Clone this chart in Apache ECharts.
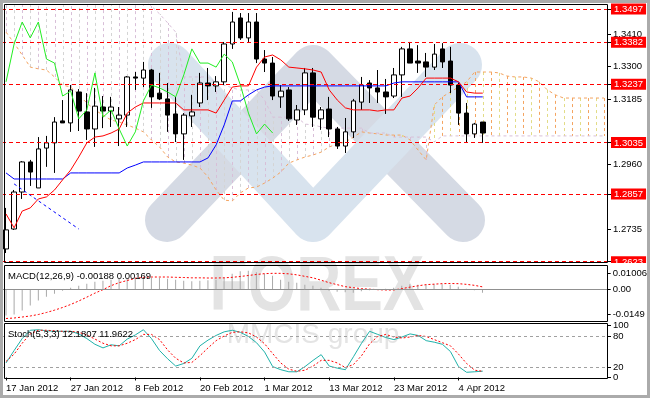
<!DOCTYPE html>
<html><head><meta charset="utf-8">
<script src="https://cdn.jsdelivr.net/npm/echarts@6/dist/echarts.min.js"></script>
<style>html,body{margin:0;padding:0;background:#fff}#c{width:650px;height:398px}</style>
</head><body><div id="c"></div>
<script>
const dates = ['17 Jan 2012','18 Jan 2012','19 Jan 2012','20 Jan 2012','23 Jan 2012','24 Jan 2012','25 Jan 2012','26 Jan 2012','27 Jan 2012','30 Jan 2012','31 Jan 2012','1 Feb 2012','2 Feb 2012','3 Feb 2012','6 Feb 2012','7 Feb 2012','8 Feb 2012','9 Feb 2012','10 Feb 2012','13 Feb 2012','14 Feb 2012','15 Feb 2012','16 Feb 2012','17 Feb 2012','20 Feb 2012','21 Feb 2012','22 Feb 2012','23 Feb 2012','24 Feb 2012','27 Feb 2012','28 Feb 2012','29 Feb 2012','1 Mar 2012','2 Mar 2012','5 Mar 2012','6 Mar 2012','7 Mar 2012','8 Mar 2012','9 Mar 2012','12 Mar 2012','13 Mar 2012','14 Mar 2012','15 Mar 2012','16 Mar 2012','19 Mar 2012','20 Mar 2012','21 Mar 2012','22 Mar 2012','23 Mar 2012','26 Mar 2012','27 Mar 2012','28 Mar 2012','29 Mar 2012','30 Mar 2012','2 Apr 2012','3 Apr 2012','4 Apr 2012','5 Apr 2012','6 Apr 2012','9 Apr 2012'];
const futureDates = ['10 Apr 2012','11 Apr 2012','12 Apr 2012','13 Apr 2012','16 Apr 2012','17 Apr 2012','18 Apr 2012','19 Apr 2012','20 Apr 2012','23 Apr 2012','24 Apr 2012','25 Apr 2012','26 Apr 2012','27 Apr 2012','30 Apr 2012'];

const open = [1.2667,1.2736,1.2864,1.2968,1.2878,1.3016,1.3034,1.3110,1.3103,1.3210,
 1.3141,1.3082,1.3158,1.3144,1.3117,1.3130,1.3262,1.3258,1.3286,1.3206,
 1.3186,1.3134,1.3065,1.3127,1.3172,1.3241,1.3231,1.3245,1.3376,1.3466,
 1.3397,1.3452,1.3324,1.3310,1.3193,1.3217,1.3113,1.3148,1.3276,1.3117,
 1.3151,1.3082,1.3023,1.3072,1.3175,1.3241,1.3224,1.3210,1.3196,1.3269,
 1.3359,1.3317,1.3314,1.3296,1.3359,1.3317,1.3234,1.3137,1.3065,1.3106];
const close = [1.2733,1.2864,1.2968,1.2933,1.3013,1.3034,1.3106,1.3103,1.3217,1.3144,
 1.3082,1.3161,1.3144,1.3158,1.3130,1.3262,1.3258,1.3286,1.3193,1.3186,
 1.3130,1.3065,1.3130,1.3141,1.3241,1.3231,1.3245,1.3376,1.3452,1.3397,
 1.3452,1.3324,1.3310,1.3196,1.3213,1.3117,1.3148,1.3276,1.3123,1.3148,
 1.3082,1.3023,1.3072,1.3179,1.3234,1.3224,1.3210,1.3193,1.3269,1.3359,
 1.3310,1.3310,1.3296,1.3341,1.3314,1.3234,1.3137,1.3065,1.3099,1.3068];
const low = [1.2653,1.2733,1.2840,1.2885,1.2878,1.2951,1.2930,1.3103,1.3072,1.3075,
 1.3044,1.3020,1.3085,1.3089,1.3023,1.3089,1.3217,1.3227,1.3155,1.3182,
 1.3072,1.3037,1.2975,1.3089,1.3158,1.3182,1.3210,1.3234,1.3359,1.3390,
 1.3383,1.3310,1.3279,1.3182,1.3155,1.3110,1.3096,1.3130,1.3089,1.3079,
 1.3054,1.3013,1.2999,1.3051,1.3148,1.3172,1.3172,1.3134,1.3189,1.3193,
 1.3310,1.3276,1.3262,1.3286,1.3293,1.3206,1.3096,1.3034,1.3051,1.3034];
const high = [1.2809,1.2871,1.2971,1.2975,1.3054,1.3058,1.3123,1.3182,1.3234,1.3220,
 1.3206,1.3224,1.3196,1.3193,1.3158,1.3265,1.3279,1.3314,1.3290,1.3276,
 1.3241,1.3193,1.3137,1.3200,1.3276,1.3293,1.3265,1.3383,1.3487,1.3483,
 1.3483,1.3483,1.3355,1.3331,1.3234,1.3227,1.3165,1.3293,1.3293,1.3158,
 1.3193,1.3089,1.3120,1.3186,1.3262,1.3251,1.3286,1.3255,1.3293,1.3366,
 1.3383,1.3372,1.3345,1.3376,1.3379,1.3366,1.3241,1.3172,1.3103,1.3106];

const tenkan = [1.2788,1.2740,1.2798,1.2809,1.2840,1.2847,1.2871,1.2906,1.2940,1.2985,
 1.3034,1.3054,1.3058,1.3068,1.3082,1.3137,1.3158,1.3172,1.3172,1.3172,
 1.3172,1.3172,1.3148,1.3148,1.3148,1.3148,1.3137,1.3182,1.3227,1.3231,
 1.3231,1.3296,1.3331,1.3338,1.3321,1.3296,1.3293,1.3290,1.3286,1.3279,
 1.3217,1.3182,1.3155,1.3148,1.3148,1.3148,1.3144,1.3148,1.3148,1.3189,
 1.3196,1.3224,1.3258,1.3258,1.3258,1.3258,1.3245,1.3210,1.3206,1.3206];
const kijun = [1.2930,1.2909,1.2909,1.2909,1.2909,1.2909,1.2909,1.2909,1.2930,1.2930,
 1.2930,1.2930,1.2930,1.2930,1.2930,1.2947,1.2957,1.2968,1.2968,1.2968,
 1.2968,1.2968,1.2968,1.2968,1.2968,1.2982,1.3027,1.3096,1.3179,1.3179,
 1.3200,1.3217,1.3227,1.3231,1.3231,1.3231,1.3231,1.3231,1.3231,1.3231,
 1.3231,1.3231,1.3231,1.3231,1.3231,1.3231,1.3231,1.3231,1.3241,1.3245,
 1.3245,1.3245,1.3245,1.3245,1.3245,1.3245,1.3245,1.3193,1.3193,1.3193];
const spanA = [1.3417,1.3379,1.3338,1.3296,1.3290,1.3286,1.3262,1.3234,1.3227,1.3200,
 1.3172,1.3148,1.3130,1.3113,1.3106,1.3096,1.3085,1.3072,1.3044,1.3020,
 1.2985,1.2968,1.2964,1.2957,1.2947,1.2916,1.2871,1.2836,1.2833,1.2861,
 1.2878,1.2881,1.2895,1.2912,1.2933,1.2964,1.2975,1.2985,1.2992,1.3002,
 1.3020,1.3030,1.3037,1.3054,1.3072,1.3068,1.3065,1.3061,1.3061,1.3061,
 1.3044,1.3009,1.2975,1.3165,1.3193,1.3210,1.3227,1.3245,1.3279,1.3279,
 1.3279,1.3276,1.3265,1.3262,1.3262,1.3258,1.3245,1.3217,1.3200,1.3189,
 1.3189,1.3189,1.3189,1.3189,1.3189];
const spanB = [1.3530,1.3530,1.3530,1.3530,1.3530,1.3530,1.3530,1.3530,1.3530,1.3530,
 1.3530,1.3530,1.3530,1.3530,1.3530,1.3530,1.3530,1.3530,1.3507,1.3480,
 1.3449,1.3417,1.3262,1.3262,1.3262,1.3262,1.3241,1.3234,1.3224,1.3217,
 1.3217,1.3217,1.3182,1.3123,1.3123,1.3123,1.3123,1.3099,1.3096,1.3089,
 1.3085,1.3085,1.3085,1.3085,1.3085,1.3068,1.3068,1.3068,1.3054,1.3054,
 1.3054,1.3054,1.3054,1.3037,1.3058,1.3058,1.3058,1.3058,1.3058,1.3058,
 1.3058,1.3058,1.3058,1.3058,1.3058,1.3058,1.3058,1.3058,1.3058,1.3058,
 1.3058,1.3058,1.3058,1.3058,1.3058];
const trendLine = [[1, 1.2892], [9, 1.2736]];
const levels = [1.3497, 1.3382, 1.3237, 1.3035, 1.2857, 1.2623];
const priceTicks = [1.3497, 1.3410, 1.3382, 1.3300, 1.3237, 1.3185, 1.3035, 1.2960, 1.2857, 1.2735, 1.2623];

const macdMain = [-0.0155,-0.0149,-0.0125,-0.0095,-0.0065,-0.0042,-0.0024,-0.0006,0.0012,0.0024,
 0.0036,0.0048,0.0054,0.0060,0.0065,0.0068,0.0071,0.0074,0.0071,0.0071,
 0.0065,0.0060,0.0054,0.0051,0.0054,0.0057,0.0060,0.0071,0.0095,0.0110,
 0.0113,0.0104,0.0095,0.0083,0.0060,0.0048,0.0042,0.0030,0.0024,0.0012,
 -0.0006,-0.0012,-0.0015,-0.0018,-0.0009,-0.0003,0.0003,0.0006,0.0012,0.0024,
 0.0033,0.0030,0.0030,0.0033,0.0033,0.0030,0.0018,0.0006,-0.0003,-0.00188];
const macdSignal = [-0.0173,-0.0170,-0.0164,-0.0158,-0.0149,-0.0137,-0.0123,-0.0107,-0.0089,-0.0068,
 -0.0045,-0.0021,0.0000,0.0024,0.0042,0.0055,0.0068,0.0074,0.0076,0.0076,
 0.0076,0.0074,0.0073,0.0071,0.0071,0.0070,0.0070,0.0071,0.0074,0.0079,
 0.0085,0.0091,0.0096,0.0098,0.0098,0.0095,0.0089,0.0080,0.0071,0.0057,
 0.0042,0.0030,0.0018,0.0012,0.0006,0.0003,0.0000,-0.0002,-0.0002,0.0006,
 0.0015,0.0023,0.0030,0.0033,0.0036,0.0037,0.0036,0.0032,0.0026,0.00169];
const macdTicks = [0.01006, 0, -0.0149];

const stochMain = [28,52,75,91,92,90,89,89,89,84,75,64,57,63,61,74,82,92,75,52,
 36,22,27,37,61,72,81,88,91,87,79,67,49,21,15,11,11,21,33,44,
 22,18,15,40,66,89,83,77,73,78,84,81,71,68,64,50,21,10,11,12.1807];
const stochSignal = [31,45,66,84,91,91,90,89,89,87,82,74,66,61,61,66,73,83,83,73,
 53,37,28,29,42,57,71,80,87,88,86,78,65,46,28,16,12,14,22,33,
 33,28,19,25,42,65,79,83,78,76,78,81,79,73,67,61,45,27,14,11.9622];
const stochTicks = [100, 80, 20, 0];

const FONT = 'Liberation Sans, Arial, sans-serif';
const cats = dates.concat(futureDates);
const candles = open.map((o, i) => [o, close[i], low[i], high[i]]);
const chikou = close.slice(26);
const cloud = spanA.map((a, i) => [i, a, spanB[i]]);

const chart = echarts.init(document.getElementById('c'), null, {renderer: 'canvas'});
const hiddenX = (gi) => ({type: 'category', gridIndex: gi, data: cats, boundaryGap: true,
  axisLine: {show: false}, axisTick: {show: false}, axisLabel: {show: false}, splitLine: {show: false}});

const option = {
  animation: false,
  backgroundColor: '#ffffff',
  textStyle: {fontFamily: FONT},
  grid: [
    {left: 2, right: 42, top: 4, height: 258},
    {left: 2, right: 42, top: 265, height: 56},
    {left: 2, right: 42, top: 323, height: 55}
  ],
  xAxis: [
    hiddenX(0), hiddenX(1),
    {type: 'category', gridIndex: 2, data: cats, boundaryGap: true,
     axisLine: {show: false},
     axisTick: {show: true, alignWithLabel: true, length: 3, interval: (i) => i % 8 === 0 && i < dates.length, lineStyle: {color: '#000'}},
     axisLabel: {show: true, interval: (i) => i % 8 === 0 && i < dates.length, align: 'left', margin: 5,
       fontSize: 9.5, color: '#000', fontFamily: FONT},
     splitLine: {show: false}}
  ],
  yAxis: [
    {type: 'value', gridIndex: 0, position: 'right', min: 1.26219, max: 1.35143, scale: true,
     axisLine: {show: false}, splitLine: {show: false},
     axisTick: {show: true, length: 3, customValues: priceTicks, lineStyle: {color: '#000'}},
     axisLabel: {show: true, margin: 3, hideOverlap: false, customValues: priceTicks,
       formatter: (v) => levels.some(l => Math.abs(l - v) < 1e-6) ? '{r|' + v.toFixed(4) + '}' : '{n|' + v.toFixed(4) + '}',
       rich: {
         n: {color: '#000', fontSize: 9.5, fontFamily: FONT, padding: [0, 0, 0, 2]},
         r: {color: '#fff', fontSize: 9.5, fontFamily: FONT, backgroundColor: '#ff0000', padding: [1, 3, 0, 3]}
       }}},
    {type: 'value', gridIndex: 1, position: 'right', min: -0.0188, max: 0.0148,
     axisLine: {show: false}, splitLine: {show: false},
     axisTick: {show: true, length: 3, customValues: macdTicks, lineStyle: {color: '#000'}},
     axisLabel: {show: true, margin: 5, hideOverlap: false, customValues: macdTicks, color: '#000', fontSize: 9.5, fontFamily: FONT,
       formatter: (v) => v === 0 ? '0.00' : String(v)}},
    {type: 'value', gridIndex: 2, position: 'right', min: -1, max: 105,
     axisLine: {show: false}, splitLine: {show: false},
     axisTick: {show: true, length: 3, customValues: stochTicks, lineStyle: {color: '#000'}},
     axisLabel: {show: true, margin: 5, hideOverlap: false, showMinLabel: true, showMaxLabel: true, customValues: stochTicks,
       color: '#000', fontSize: 9.5, fontFamily: FONT}}
  ],
  series: [
    {type: 'custom', name: 'Kumo', xAxisIndex: 0, yAxisIndex: 0, z: 1, silent: true, clip: true,
     data: cloud,
     renderItem: (params, api) => {
       const i = api.value(0);
       const a = api.value(1), b = api.value(2);
       const p1 = api.coord([i, a]);
       const p2 = api.coord([i, b]);
       let col;
       if (a > b) col = (i % 2 === 0) ? '#f4a460' : '#e2dc86';
       else col = (i % 2 === 0) ? '#d8bfd8' : '#d4d4d4';
       const x = Math.round(p1[0]) + 0.5;
       return {type: 'line', shape: {x1: x, y1: p1[1], x2: x, y2: p2[1]},
         style: {stroke: col, lineWidth: 1, lineDash: [3, 3]}};
     }},
    {type: 'line', name: 'Senkou A', xAxisIndex: 0, yAxisIndex: 0, z: 1, data: spanA, symbol: 'none', silent: true,
     lineStyle: {color: '#f4a460', width: 1, type: [3, 3]}},
    {type: 'line', name: 'Senkou B', xAxisIndex: 0, yAxisIndex: 0, z: 1, data: spanB, symbol: 'none', silent: true,
     lineStyle: {color: '#d8bfd8', width: 1, type: [3, 3]}},
    {type: 'candlestick', name: 'EURUSD', xAxisIndex: 0, yAxisIndex: 0, z: 3, data: candles, barWidth: 5, silent: true,
     itemStyle: {color: '#ffffff', color0: '#000000', borderColor: '#000000', borderColor0: '#000000', borderColorDoji: '#000000', borderWidth: 1},
     markLine: {silent: true, precision: 5, symbol: ['none', 'none'], label: {show: false},
       lineStyle: {color: '#ff0000', width: 1, type: [4, 3], opacity: 1},
       data: levels.map(l => ({yAxis: l}))}},
    {type: 'line', name: 'Kijun', xAxisIndex: 0, yAxisIndex: 0, z: 4, data: kijun, symbol: 'none', silent: true,
     lineStyle: {color: '#0000ff', width: 1}},
    {type: 'line', name: 'Tenkan', xAxisIndex: 0, yAxisIndex: 0, z: 4, data: tenkan, symbol: 'none', silent: true,
     lineStyle: {color: '#ff0000', width: 1}},
    {type: 'line', name: 'Chikou', xAxisIndex: 0, yAxisIndex: 0, z: 4, data: chikou, symbol: 'none', silent: true,
     lineStyle: {color: '#22ee22', width: 1}},
    {type: 'line', name: 'Trend', xAxisIndex: 0, yAxisIndex: 0, z: 4, data: trendLine, symbol: 'none', silent: true,
     lineStyle: {color: '#0000ff', width: 1, type: [3, 3]}},
    {type: 'bar', name: 'MACD', xAxisIndex: 1, yAxisIndex: 1, z: 3, data: macdMain, barWidth: 1, silent: true,
     itemStyle: {color: '#a9a9a9'},
     markLine: {silent: true, precision: 5, symbol: ['none', 'none'], label: {show: false},
       lineStyle: {color: '#909090', width: 1, type: 'solid'}, data: [{yAxis: 0}]}},
    {type: 'line', name: 'Signal', xAxisIndex: 1, yAxisIndex: 1, z: 4, data: macdSignal, symbol: 'none', silent: true,
     lineStyle: {color: '#ff0000', width: 1, type: [2, 2]}},
    {type: 'line', name: 'Stoch', xAxisIndex: 2, yAxisIndex: 2, z: 4, data: stochMain, symbol: 'none', silent: true,
     lineStyle: {color: '#20b2aa', width: 1},
     markLine: {silent: true, precision: 2, symbol: ['none', 'none'], label: {show: false},
       lineStyle: {color: '#a0a0a0', width: 1, type: [3, 3]}, data: [{yAxis: 80}, {yAxis: 20}]}},
    {type: 'line', name: 'StochSignal', xAxisIndex: 2, yAxisIndex: 2, z: 4, data: stochSignal, symbol: 'none', silent: true,
     lineStyle: {color: '#ff0000', width: 1, type: [2, 2]}}
  ],
  graphic: [
    {type: 'polyline', z: 0, silent: true, shape: {points: [[167, 220], [313, 67], [463, 220]]},
     style: {stroke: '#d5dae4', lineWidth: 44, lineCap: 'round', lineJoin: 'round', fill: null}},
    {type: 'polyline', z: 0, silent: true, shape: {points: [[170, 65], [313, 220], [460, 65]]},
     style: {stroke: '#d8e3ee', lineWidth: 44, lineCap: 'round', lineJoin: 'round', fill: null}},
    {type: 'text', z: 0, silent: true, x: 317, y: 288, scaleX: 0.8,
     style: {text: 'FOREX', font: 'bold 78px ' + FONT, fill: '#e3e3e3', align: 'center', verticalAlign: 'middle'}},
    {type: 'text', z: 0, silent: true, x: 313, y: 335,
     style: {text: 'MMCIS group', font: '28px ' + FONT, fill: '#e4e4e4', align: 'center', verticalAlign: 'middle'}},
    {type: 'rect', z: 99, silent: true, shape: {x: 609, y: 263, width: 41, height: 5}, style: {fill: '#ffffff'}},
    {type: 'rect', z: 100, silent: true, shape: {x: 4.5, y: 4.5, width: 603, height: 258}, style: {fill: null, stroke: '#000', lineWidth: 1}},
    {type: 'rect', z: 100, silent: true, shape: {x: 4.5, y: 265.5, width: 603, height: 56}, style: {fill: null, stroke: '#000', lineWidth: 1}},
    {type: 'rect', z: 100, silent: true, shape: {x: 4.5, y: 323.5, width: 603, height: 55}, style: {fill: null, stroke: '#000', lineWidth: 1}},
    {type: 'rect', z: 100, silent: true, shape: {x: 1.5, y: 1.5, width: 647, height: 395}, style: {fill: null, stroke: '#ababab', lineWidth: 3}},
    {type: 'text', z: 101, silent: true, style: {text: 'MACD(12,26,9) -0.00188 0.00169', x: 8, y: 276, font: '9.5px ' + FONT, fill: '#000', verticalAlign: 'middle'}},
    {type: 'text', z: 101, silent: true, style: {text: 'Stoch(5,3,3) 12.1807 11.9622', x: 8, y: 334, font: '9.5px ' + FONT, fill: '#000', verticalAlign: 'middle'}}
  ]
};
chart.setOption(option);
</script>
</body></html>
